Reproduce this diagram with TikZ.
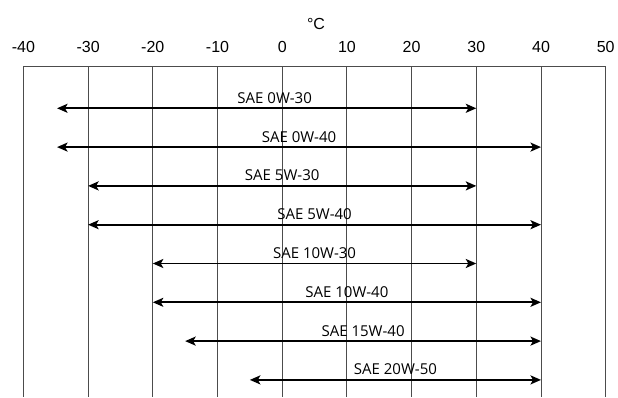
\documentclass[tikz,border=0pt]{standalone}
\usepackage{fontspec}
\setmainfont{Liberation Sans}
\newfontfamily\labfont{Open Sans}
\usetikzlibrary{arrows.meta,calc}
\begin{document}
\begin{tikzpicture}[x=1pt,y=1pt,
  gridline/.style={draw=black!70, line width=0.9pt},
  oilarrow/.style={{Stealth[length=10.5pt,width=9pt,inset=2.5pt]}-{Stealth[length=10.5pt,width=9pt,inset=2.5pt]}, line width=1.8pt},
  scalelab/.style={font=\fontsize{16}{19}\selectfont, anchor=base, inner sep=0pt},
  oillab/.style={font=\labfont\fontsize{15}{18}\selectfont, anchor=base, inner sep=0pt}]
\useasboundingbox (0,0) rectangle (618,397);
\foreach \t [count=\i] in {-40,-30,-20,-10,0,10,20,30,40,50} {
  \pgfmathsetmacro\xx{282.2+6.47*\t}
  \coordinate (top\i) at (\xx,330.3);
  \coordinate (bot\i) at (\xx,0);
  \draw[gridline] (top\i) -- (bot\i);
  \node[scalelab] (lab\i) at (\xx,344.3) {\t};
}
\draw[gridline] (top1) -- (top10);
\node[scalelab] (unit) at (316,367) {°C};
\foreach \nm/\lo/\hi/\sh [count=\k from 0] in {0W-30/-34.8/30/8, 0W-40/-34.8/40/0, 5W-30/-30/30/0, 5W-40/-30/40/0, 10W-30/-20/30/0, 10W-40/-20/40/0, 15W-40/-15/40/0, 20W-50/-5/40/0} {
  \pgfmathsetmacro\yy{288.7-38.8*\k}
  \pgfmathsetmacro\xa{282.2+6.47*\lo}
  \pgfmathsetmacro\xb{282.2+6.47*\hi}
  \coordinate (l\k) at (\xa,\yy);
  \coordinate (r\k) at (\xb,\yy);
  \draw[oilarrow] (l\k) -- (r\k);
  \node[oillab] (oil\k) at ($(l\k)!0.5!(r\k)+(\sh,5)$) {SAE \nm};
}
\end{tikzpicture}
\end{document}
